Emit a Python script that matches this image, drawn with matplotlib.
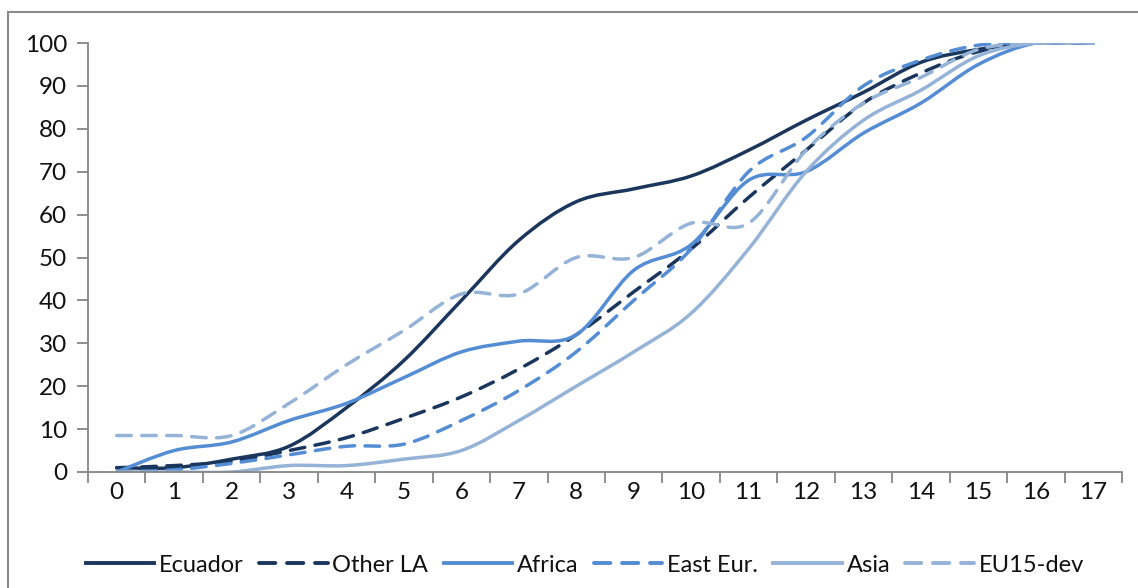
import numpy as np
import matplotlib
matplotlib.use("Agg")
import matplotlib.pyplot as plt
from matplotlib.path import Path
from matplotlib.patches import PathPatch, Rectangle
from matplotlib.lines import Line2D

plt.rcParams["font.family"] = ["Lato", "DejaVu Sans"]

years = list(range(18))
ecuador = [1, 1, 3, 6, 15, 26, 40, 54, 63, 66, 69, 75, 82, 88.5, 95.5, 98.5, 100, 100]
other_la = [1, 1.5, 2.5, 5, 8, 12.5, 17.5, 24, 32, 42, 52, 64, 75, 86, 93, 98, 100, 100]
africa = [0, 5, 7, 12, 16, 22, 28, 30.5, 32, 47, 53, 68, 70, 79, 86, 95, 100, 100]
east_eur = [0, 0.5, 2, 4, 6, 6.5, 12, 19, 28, 40, 52, 70, 78, 90, 96, 99.5, 100, 100]
asia = [0, 0, 0, 1.5, 1.5, 3, 5, 12, 20, 28, 37, 52, 70, 82, 89, 97, 100, 100]
eu15 = [8.5, 8.5, 8.5, 16, 25, 33, 41.5, 41.5, 50, 50, 58, 58, 75, 86, 92, 98.5, 100, 100]

labels = ["Ecuador", "Other LA", "Africa", "East Eur.", "Asia", "EU15-dev"]
series = [ecuador, other_la, africa, east_eur, asia, eu15]

DARK, MID, LIGHT = "#1b365d", "#548dd4", "#95b3d7"
colors = [DARK, DARK, MID, MID, LIGHT, LIGHT]
dashed = [False, True, False, True, False, True]
DASH = (0, (4.2, 3.0))


def smooth_path(xs, ys):
    """Excel-style smoothed line: cubic Bezier through every point."""
    pts = np.column_stack([xs, ys]).astype(float)
    n = len(pts)
    verts = [pts[0]]
    codes = [Path.MOVETO]
    for i in range(n - 1):
        p0 = pts[i - 1] if i > 0 else pts[i]
        p1, p2 = pts[i], pts[i + 1]
        p3 = pts[i + 2] if i + 2 < n else pts[i + 1]
        c1 = p1 + (p2 - p0) / 6.0
        c2 = p2 - (p3 - p1) / 6.0
        verts += [c1, c2, p2]
        codes += [Path.CURVE4] * 3
    return Path(verts, codes)


fig = plt.figure(figsize=(11.38, 5.88), dpi=100)
ax = fig.add_axes([88 / 1138, 116 / 588, (1122 - 88) / 1138, (472 - 43) / 588])

handles = []
for vals, col, dsh in zip(series, colors, dashed):
    ls = DASH if dsh else "-"
    patch = PathPatch(smooth_path(years, vals), fill=False, edgecolor=col,
                      lw=2.5, linestyle=ls, capstyle="round", joinstyle="round")
    ax.add_patch(patch)
    handles.append(Line2D([], [], color=col, lw=2.8, linestyle=ls,
                          dash_capstyle="round"))

ax.set_xlim(-0.5, 17.5)
ax.set_ylim(0, 100)
ax.set_yticks(range(0, 101, 10))
ax.set_xticks(np.arange(-0.5, 18, 1))
ax.set_xticklabels([])
ax.set_xticks(years, minor=True)
ax.set_xticklabels([str(y) for y in years], minor=True)
ax.tick_params(axis="x", which="major", length=8, width=1.3, color="#868686", direction="out")
ax.tick_params(axis="x", which="minor", length=0, labelsize=17.5, pad=7, labelcolor="#111111")
ax.tick_params(axis="y", length=8, width=1.3, color="#868686", labelsize=17.5, pad=7,
               labelcolor="#111111")
for side in ("top", "right"):
    ax.spines[side].set_visible(False)
for side in ("left", "bottom"):
    ax.spines[side].set_color("#868686")
    ax.spines[side].set_linewidth(1.3)

fig.legend(handles, labels, loc="center", bbox_to_anchor=(585 / 1138, 1 - 565 / 588),
           ncol=6, frameon=False, handlelength=2.9, handletextpad=0.2,
           columnspacing=0.65, borderaxespad=0, borderpad=0,
           prop={"size": 17}, labelcolor="#111111")

fig.patches.append(Rectangle((8 / 1138, -0.1), 1.2, 1.1 - 12 / 588,
                             transform=fig.transFigure, fill=False,
                             edgecolor="#8c8c8c", lw=1.5))

fig.savefig("out.png", dpi=100)
